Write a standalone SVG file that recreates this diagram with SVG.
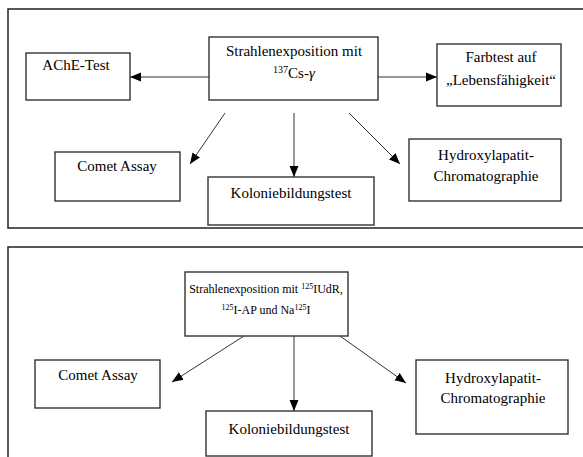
<svg xmlns="http://www.w3.org/2000/svg" width="583" height="457" viewBox="0 0 583 457">
<style>
.frame{fill:none;stroke:#222;stroke-width:1.5}
.box{fill:#fff;stroke:#333;stroke-width:1.4}
.t{font-family:"Liberation Serif","DejaVu Serif",serif;font-size:15px;fill:#000;text-anchor:middle}
.sm{font-size:12px}
.sup{font-size:10px}
.sup2{font-size:8px}
.c{stroke:#333;stroke-width:1;fill:none;marker-end:url(#ah)}
</style>
<defs>
<marker id="ah" markerUnits="userSpaceOnUse" markerWidth="12" markerHeight="10" viewBox="0 0 12 10" refX="11" refY="5" orient="auto">
<path d="M0,0.5 L11,5 L0,9.5 Z" fill="#000"/>
</marker>
</defs>
<rect class="frame" x="8" y="9" width="590" height="219"/>
<rect class="frame" x="8" y="247" width="590" height="230"/>
<g id="connectors">
<line class="c" x1="209" y1="77" x2="130" y2="77"/>
<line class="c" x1="378" y1="77" x2="437" y2="77"/>
<line class="c" x1="225" y1="113" x2="190" y2="164"/>
<line class="c" x1="294" y1="113" x2="294" y2="177"/>
<line class="c" x1="349" y1="113" x2="400" y2="164"/>
<line class="c" x1="244" y1="336" x2="172" y2="382"/>
<line class="c" x1="294" y1="336" x2="294" y2="411"/>
<line class="c" x1="340" y1="336" x2="406" y2="383"/>
</g>
<g id="strahlen1">
<rect class="box" x="209" y="37" width="169" height="63"/>
<text class="t" x="294" y="56">Strahlenexposition mit</text>
<text class="t" x="294" y="78"><tspan class="sup" dy="-5">137</tspan><tspan dy="5">Cs-</tspan><tspan font-style="italic">γ</tspan></text>
</g>
<g id="ache">
<rect class="box" x="26" y="53" width="104" height="47"/>
<text class="t" x="76" y="70">AChE-Test</text>
</g>
<g id="farbtest">
<rect class="box" x="437" y="44" width="124" height="62"/>
<text class="t" x="501" y="62">Farbtest auf</text>
<text class="t" x="501" y="85">„Lebensfähigkeit“</text>
</g>
<g id="comet1">
<rect class="box" x="55" y="152" width="125" height="49"/>
<text class="t" x="117" y="171">Comet Assay</text>
</g>
<g id="kolonie1">
<rect class="box" x="208" y="177" width="166" height="48"/>
<text class="t" x="291" y="198">Koloniebildungstest</text>
</g>
<g id="hydroxy1">
<rect class="box" x="409" y="139" width="152" height="62"/>
<text class="t" x="486" y="160">Hydroxylapatit-</text>
<text class="t" x="486" y="181">Chromatographie</text>
</g>
<g id="strahlen2">
<rect class="box" x="185" y="272" width="163" height="64"/>
<text class="t sm" x="266" y="293">Strahlenexposition mit <tspan class="sup2" dy="-4">125</tspan><tspan dy="4">IUdR,</tspan></text>
<text class="t sm" x="266" y="314"><tspan class="sup2" dy="-4">125</tspan><tspan dy="4">I-AP und Na</tspan><tspan class="sup2" dy="-4">125</tspan><tspan dy="4">I</tspan></text>
</g>
<g id="comet2">
<rect class="box" x="35" y="360" width="125" height="48"/>
<text class="t" x="98" y="380">Comet Assay</text>
</g>
<g id="kolonie2">
<rect class="box" x="206" y="411" width="166" height="45"/>
<text class="t" x="289" y="434">Koloniebildungstest</text>
</g>
<g id="hydroxy2">
<rect class="box" x="416" y="360" width="152" height="74"/>
<text class="t" x="493" y="383">Hydroxylapatit-</text>
<text class="t" x="493" y="403">Chromatographie</text>
</g>
</svg>
